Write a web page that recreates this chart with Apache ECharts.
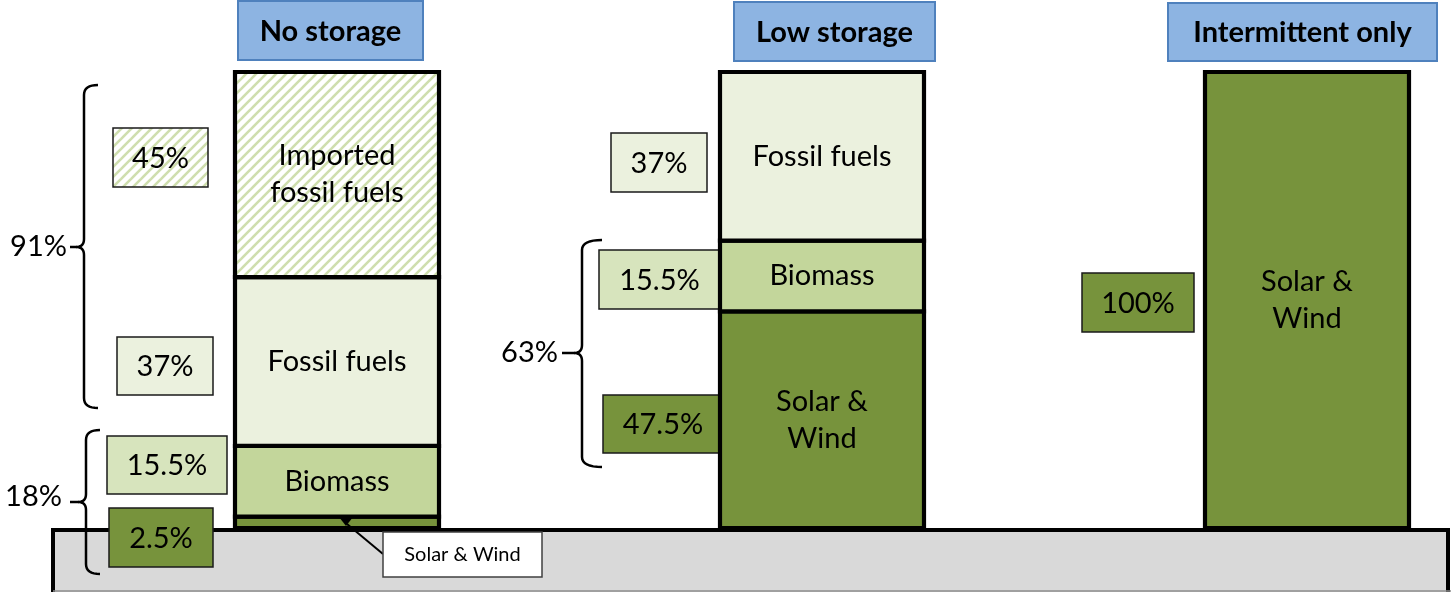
<!DOCTYPE html>
<html>
<head>
<meta charset="utf-8">
<script src="https://cdn.jsdelivr.net/npm/echarts@6/dist/echarts.min.js"></script>
<style>
  html, body { margin: 0; padding: 0; background: #fff; }
  #main { width: 1451px; height: 592px; }
</style>
</head>
<body>
<div id="main"></div>
<script>
// scenarios and shares (%)
var scenarios = ['No storage', 'Low storage', 'Intermittent only'];
var solarWind = [2.5, 47.5, 100];
var biomass = [15.5, 15.5, null];
var fossil = [37, 37, null];
var imported = [45, null, null];
var seriesNames = ['Solar & Wind', 'Biomass', 'Fossil fuels', 'Imported fossil fuels'];
var seriesText = ['Solar &\nWind', 'Biomass', 'Fossil fuels', 'Imported\nfossil fuels'];
var bracketLabels = ['91%', '18%', '63%'];

var FONT = 'Lato';
var BAR_W = 204;

// hatch pattern for imported fuels
var hatch = document.createElement('canvas');
hatch.width = 10; hatch.height = 10;
var hc = hatch.getContext('2d');
hc.fillStyle = '#ffffff';
hc.fillRect(0, 0, 10, 10);
hc.strokeStyle = '#cfdeae';
hc.lineWidth = 2.6;
for (var k = -1; k <= 1; k++) {
  hc.beginPath();
  hc.moveTo(k * 10 - 1, 11);
  hc.lineTo(k * 10 + 11, -1);
  hc.stroke();
}
var hatchFill = { image: hatch, repeat: 'repeat' };

var colors = ['#77933c', '#c3d69b', '#ebf1de', hatchFill];
var dataList = [solarWind, biomass, fossil, imported];

// stacked [category, base, value] triples
var running = scenarios.map(function () { return 0; });
var stacked = dataList.map(function (arr) {
  var out = [];
  arr.forEach(function (v, j) {
    if (v == null) return;
    out.push([j, running[j], v]);
    running[j] += v;
  });
  return out;
});

var chartDom = document.getElementById('main');
var myChart = echarts.init(chartDom);

function pct(v) { return v + '%'; }

// side value box
function box(x, y, w, h, fill, text) {
  return {
    type: 'group',
    children: [
      { type: 'rect', shape: { x: x, y: y, width: w, height: h },
        style: { fill: fill, stroke: '#1a1a1a', lineWidth: 1.5 } },
      { type: 'text', x: x + w / 2, y: y + h / 2 + 1,
        style: { text: text, fontFamily: FONT, fontSize: 29, fill: '#000', align: 'center', verticalAlign: 'middle' } }
    ]
  };
}

function header(x, y, w, h, text) {
  return {
    type: 'group',
    children: [
      { type: 'rect', shape: { x: x, y: y, width: w, height: h },
        style: { fill: '#8db4e2', stroke: '#4f81bd', lineWidth: 2 } },
      { type: 'text', x: x + w / 2, y: y + h / 2 + 1,
        style: { text: text, fontFamily: FONT, fontWeight: 'bold', fontSize: 29, fill: '#000', align: 'center', verticalAlign: 'middle' } }
    ]
  };
}

// quadratic curve sampled into points
function quad(p0, c, p1) {
  var pts = [];
  for (var t = 0; t <= 1.0001; t += 0.125) {
    var a = (1 - t) * (1 - t), b = 2 * (1 - t) * t, d = t * t;
    pts.push([a * p0[0] + b * c[0] + d * p1[0], a * p0[1] + b * c[1] + d * p1[1]]);
  }
  return pts;
}

function brace(xEnd, xv, xTip, top, mid, bottom) {
  var upper = [].concat(
    quad([xEnd, top], [xv, top], [xv, top + 10]),
    [[xv, mid - 8]],
    quad([xv, mid - 8], [xv, mid], [xv - 8, mid]),
    [[xTip, mid]]
  );
  var lower = [].concat(
    [[xv - 8, mid]],
    quad([xv - 8, mid], [xv, mid], [xv, mid + 8]),
    [[xv, bottom - 10]],
    quad([xv, bottom - 10], [xv, bottom], [xEnd, bottom])
  );
  var st = { fill: null, stroke: '#000', lineWidth: 2.5 };
  return {
    type: 'group',
    children: [
      { type: 'polyline', shape: { points: upper }, style: st },
      { type: 'polyline', shape: { points: lower }, style: st }
    ]
  };
}

function bracketText(xRight, y, text) {
  return { type: 'text', x: xRight, y: y,
    style: { text: text, fontFamily: FONT, fontSize: 29, fill: '#000', align: 'right', verticalAlign: 'middle' } };
}

var series = seriesNames.map(function (name, i) {
  return {
    name: name,
    type: 'custom',
    clip: false,
    data: stacked[i],
    encode: { x: 0, y: [1, 2] },
    renderItem: function (params, api) {
      var cat = api.value(0), base = api.value(1), v = api.value(2);
      var p0 = api.coord([cat, base]);
      var p1 = api.coord([cat, base + v]);
      return {
        type: 'rect',
        shape: { x: p0[0] - BAR_W / 2, y: p1[1], width: BAR_W, height: p0[1] - p1[1] },
        style: { fill: colors[i], stroke: '#000', lineWidth: 4.2 },
        textContent: {
          style: {
            text: v < 5 ? '' : seriesText[i],
            fontFamily: FONT, fontSize: 29, lineHeight: 37, fill: '#000', align: 'center'
          }
        },
        textConfig: { position: 'inside' }
      };
    }
  };
});

var option = {
  animation: false,
  backgroundColor: '#fff',
  grid: { left: 337, right: 144, top: 72, bottom: 64 },
  xAxis: {
    type: 'category',
    data: scenarios,
    boundaryGap: false,
    show: false
  },
  yAxis: { type: 'value', min: 0, max: 100, show: false },
  series: series,
  graphic: [
    // ground
    { type: 'rect', z: -10, shape: { x: 53, y: 530, width: 1395, height: 80 },
      style: { fill: '#d9d9d9', stroke: '#000', lineWidth: 4 } },
    { type: 'line', z: -9, shape: { x1: 53, y1: 591, x2: 1451, y2: 591 },
      style: { stroke: '#8c8c8c', lineWidth: 1.5 } },

    header(238, 1, 185, 59, scenarios[0]),
    header(734, 2, 201, 59, scenarios[1]),
    header(1168, 3, 269, 58, scenarios[2]),

    // no storage side values
    box(113, 128, 95, 59, hatchFill, pct(imported[0])),
    box(117, 337, 96, 58, '#ebf1de', pct(fossil[0])),
    box(107, 436, 120, 58, '#d7e4bd', pct(biomass[0])),
    box(109, 508, 104, 59, '#77933c', pct(solarWind[0])),

    // low storage side values
    box(611, 133, 96, 59, '#ebf1de', pct(fossil[1])),
    box(599, 250, 121, 59, '#d7e4bd', pct(biomass[1])),
    box(603, 395, 120, 58, '#77933c', pct(solarWind[1])),

    // intermittent side value
    box(1082, 273, 112, 59, '#77933c', pct(solarWind[2])),

    // braces
    brace(98, 84, 70, 85, 247, 408),
    bracketText(67, 247, bracketLabels[0]),
    brace(100, 86, 70, 430, 502, 574),
    bracketText(62, 497, bracketLabels[1]),
    brace(602, 582, 562, 240, 353, 467),
    bracketText(558, 353, bracketLabels[2]),

    // callout for the thin solar & wind strip
    { type: 'polygon', z: 50, shape: { points: [[339, 517], [353, 517], [346, 526]] },
      style: { fill: '#000' } },
    { type: 'line', z: 50, shape: { x1: 347, y1: 524, x2: 383, y2: 554 },
      style: { stroke: '#000', lineWidth: 2 } },
    { type: 'rect', z: 50, shape: { x: 383, y: 532, width: 159, height: 45 },
      style: { fill: '#fff', stroke: '#404040', lineWidth: 1.5 } },
    { type: 'text', z: 51, x: 462.5, y: 555,
      style: { text: seriesNames[0], fontFamily: FONT, fontSize: 20, fill: '#000', align: 'center', verticalAlign: 'middle' } }
  ]
};

option && myChart.setOption(option);
</script>
</body>
</html>
